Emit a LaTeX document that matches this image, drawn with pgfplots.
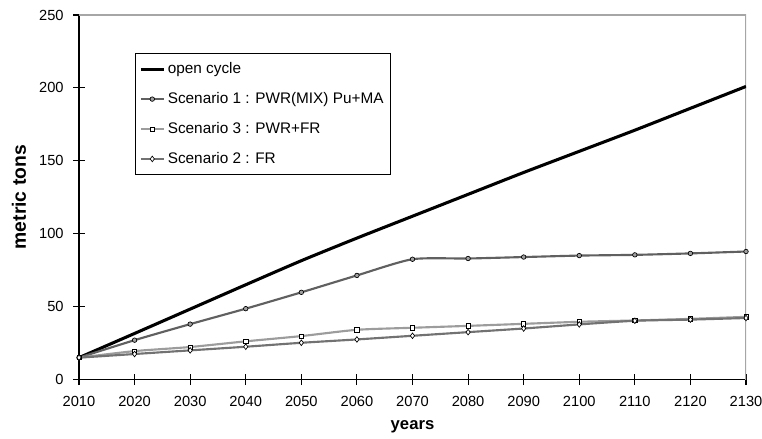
\documentclass[border=0pt]{standalone}
\usepackage{pgfplots}
\pgfplotsset{compat=1.18}
\usepackage{fontspec}
\setmainfont{Liberation Sans}

\definecolor{scenA}{HTML}{606060}
\definecolor{scenB}{HTML}{9C9C9C}
\definecolor{scenC}{HTML}{727272}

\begin{document}
\begin{tikzpicture}
\begin{axis}[
    name=ax,
    width=500.25pt, height=273.4pt, scale only axis,
    xmin=2010, xmax=2130, ymin=0, ymax=250,
    xtick={2010,2020,...,2130}, ytick={0,50,...,250},
    axis x line*=bottom, axis y line*=left,
    axis line style={black, line width=0.8pt},
    tick style={black, line width=0.8pt},
    tick align=center, major tick length=8.5pt,
    /pgf/number format/assume math mode=true,
    /pgf/number format/1000 sep={},
    tick label style={font=\fontsize{11}{13}\selectfont},
    xticklabel style={yshift=-4.5pt},
    yticklabel style={xshift=-3.75pt},
    xlabel={\bfseries years},
    ylabel={\bfseries metric tons},
    xlabel style={font=\fontsize{12.5}{14}\selectfont, at={(axis description cs:0.5,-0.13)}, anchor=center},
    ylabel style={font=\fontsize{14.5}{16}\selectfont, at={(axis description cs:-0.09,0.5)}, anchor=center},
    legend cell align=left,
    legend style={at={(rel axis cs:0.084,0.896)}, anchor=north west,
        draw=black, line width=0.6pt, font=\fontsize{11.5}{13}\selectfont,
        row sep=8.6pt, inner xsep=3pt, inner ysep=5pt,
        column 2/.style={text width=197pt}},
    legend image code/.code={
        \draw[mark repeat=2, mark phase=2] plot coordinates {(0pt,0pt) (8.5pt,0pt) (17pt,0pt)};},
]
% gray top and right frame
\draw[gray!70, line width=0.8pt] (rel axis cs:0,1) -- (rel axis cs:1,1) -- (rel axis cs:1,0);

\addplot[black, line width=2.3pt, smooth, tension=0.4] coordinates { % open cycle
  (2010,15) (2020,31.6) (2030,48.3) (2040,65) (2050,81.5) (2060,97)
  (2070,112) (2080,127) (2090,142) (2100,156.5) (2110,171) (2120,186) (2130,201)
};
\addplot[scenA, line width=1.6pt, smooth, tension=0.4, mark=*,
    mark options={draw=black, fill=scenA!60, line width=0.5pt}, mark size=1.7pt] coordinates { % scenario 1
  (2010,15) (2020,27) (2030,38) (2040,48.6) (2050,59.8) (2060,71.4)
  (2070,82.5) (2080,83) (2090,84) (2100,85) (2110,85.5) (2120,86.5) (2130,87.8)
};
\addplot[scenB, line width=1.6pt, smooth, tension=0.4, mark=square*,
    mark options={draw=black, fill=white, line width=0.5pt}, mark size=1.6pt] coordinates { % scenario 3
  (2010,15) (2020,19.5) (2030,22.3) (2040,26.2) (2050,29.8) (2060,34.1)
  (2070,35.5) (2080,36.8) (2090,38.2) (2100,39.6) (2110,40.5) (2120,41.6) (2130,43)
};
\addplot[scenC, line width=1.6pt, smooth, tension=0.4, mark=diamond*,
    mark options={draw=black, fill=white, line width=0.5pt}, mark size=2.1pt] coordinates { % scenario 2
  (2010,15) (2020,17.5) (2030,20) (2040,22.5) (2050,25.2) (2060,27.5)
  (2070,30) (2080,32.5) (2090,35) (2100,37.8) (2110,40.3) (2120,41.1) (2130,42.2)
};
\legend{open cycle, Scenario 1 : PWR(MIX) Pu+MA, Scenario 3 : PWR+FR, Scenario 2 : FR}

\coordinate (bl) at (rel axis cs:0,0);
\coordinate (tr) at (rel axis cs:1,1);
\end{axis}
\pgfresetboundingbox
\path ([shift={(-59.25pt,-43.9pt)}]bl) rectangle ([shift={(12pt,11.25pt)}]tr);
\end{tikzpicture}
\end{document}
